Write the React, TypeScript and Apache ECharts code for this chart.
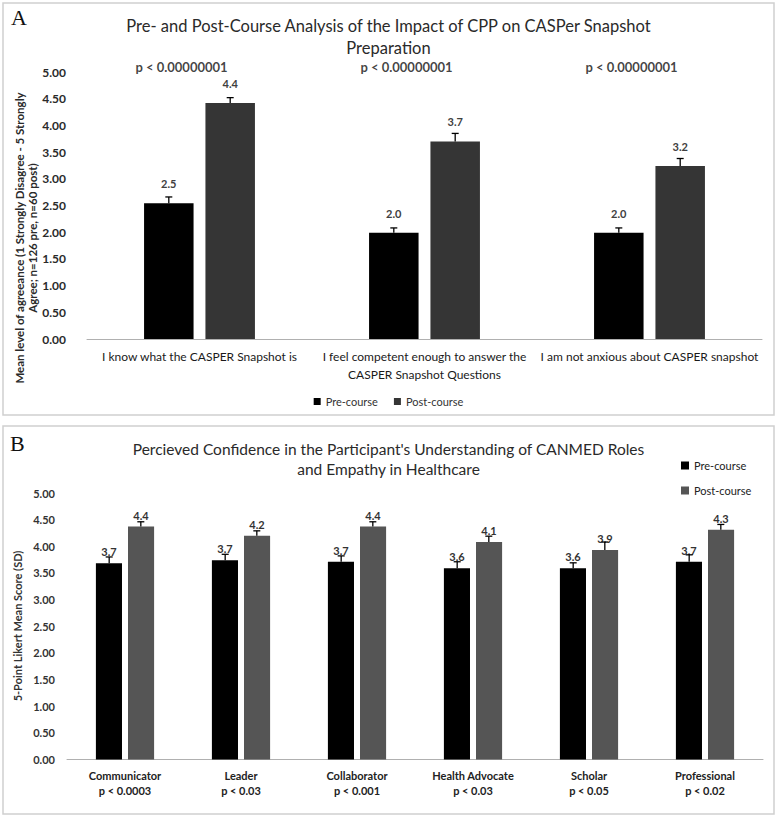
import React, { useEffect, useRef } from "react";
import * as echarts from "echarts";

// ---------- Data: panel A ----------
const categoriesA = [
  "I know what the CASPER Snapshot is",
  "I feel competent enough to answer the\nCASPER Snapshot Questions",
  "I am not anxious about CASPER snapshot",
];
const preA = [2.54, 1.99, 1.99];
const postA = [4.42, 3.7, 3.24];
const preErrA = [0.12, 0.09, 0.09];
const postErrA = [0.1, 0.15, 0.14];
const pLabelsA = ["p < 0.00000001", "p < 0.00000001", "p < 0.00000001"];

// ---------- Data: panel B ----------
const categoriesB = ["Communicator", "Leader", "Collaborator", "Health Advocate", "Scholar", "Professional"];
const pLabelsB = ["p < 0.0003", "p < 0.03", "p < 0.001", "p < 0.03", "p < 0.05", "p < 0.02"];
const preB = [3.68, 3.74, 3.71, 3.59, 3.59, 3.71];
const postB = [4.37, 4.2, 4.37, 4.08, 3.93, 4.31];
const preErrB = [0.12, 0.11, 0.11, 0.12, 0.1, 0.13];
const postErrB = [0.09, 0.09, 0.09, 0.11, 0.15, 0.1];

const yMin = 0;
const yMax = 5;
const yInterval = 0.5;

const seriesNames = ["Pre-course", "Post-course"];
const titleA = "Pre- and Post-Course Analysis of the Impact of CPP on CASPer Snapshot\nPreparation";
const titleB = "Percieved Confidence in the Participant's Understanding of CANMED Roles\nand Empathy in Healthcare";
const yTitleA = "Mean level of agreeance (1 Strongly Disagree - 5 Strongly\nAgree; n=126 pre, n=60 post)";
const yTitleB = "5-Point Likert Mean Score (SD)";

const FONT = "Lato, 'Open Sans', sans-serif";
const BAR_FRAC = 0.22;
const GAP_FRAC = 0.24;

function errorSeries(name: string, gridIdx: number, vals: number[], errs: number[], sign: number) {
  return {
    name,
    type: "custom",
    xAxisIndex: gridIdx,
    yAxisIndex: gridIdx,
    z: 10,
    silent: true,
    data: vals.map((v, i) => [i, v, errs[i]]),
    encode: { x: 0, y: 1 },
    renderItem: (params: any, api: any) => {
      const cat = api.value(0);
      const val = api.value(1);
      const err = api.value(2);
      const base = api.coord([cat, val]);
      const top = api.coord([cat, val + err]);
      const band = api.size([1, 0])[0];
      const bw = band * BAR_FRAC;
      const gap = bw * GAP_FRAC;
      const x = base[0] + (sign * (bw + gap)) / 2;
      const cap = 3.5;
      const st = { stroke: "#000", lineWidth: 1.3 };
      return {
        type: "group",
        children: [
          { type: "line", shape: { x1: x, y1: base[1], x2: x, y2: top[1] }, style: st },
          { type: "line", shape: { x1: x - cap, y1: top[1], x2: x + cap, y2: top[1] }, style: st },
        ],
      };
    },
  };
}

export default function App() {
  const ref = useRef<HTMLDivElement>(null);
  useEffect(() => {
    if (!ref.current) return;
    const chart = echarts.init(ref.current, undefined, { renderer: "svg" });
    const yAxisCommon = {
      type: "value",
      min: yMin,
      max: yMax,
      interval: yInterval,
      axisLine: { show: false },
      axisTick: { show: false },
      splitLine: { show: false },
    };
    const option: any = {
      animation: false,
      backgroundColor: "#fff",
      textStyle: { fontFamily: FONT },
      title: [
        {
          text: titleA,
          left: "center",
          top: 10,
          textStyle: { fontFamily: FONT, fontSize: 16.5, fontWeight: "normal", color: "#2a2a2a", lineHeight: 22 },
        },
        {
          text: titleB,
          left: "center",
          top: 434,
          textStyle: { fontFamily: FONT, fontSize: 15.5, fontWeight: "normal", color: "#2a2a2a", lineHeight: 20 },
        },
      ],
      legend: [
        {
          data: seriesNames,
          left: "center",
          top: 391,
          icon: "rect",
          itemWidth: 7,
          itemHeight: 7,
          itemGap: 16,
          textStyle: { fontFamily: FONT, fontSize: 11, color: "#333" },
        },
        {
          data: [
            { name: seriesNames[0], itemStyle: { color: "#000" } },
            { name: seriesNames[1], itemStyle: { color: "#555" } },
          ],
          orient: "vertical",
          left: 676,
          top: 455,
          icon: "rect",
          itemWidth: 8,
          itemHeight: 8,
          itemGap: 14,
          textStyle: { fontFamily: FONT, fontSize: 11, color: "#222" },
        },
      ],
      grid: [
        { left: 87, right: 15, top: 72, bottom: 817 - 339 },
        { left: 67, right: 14, top: 493, bottom: 817 - 759.5 },
      ],
      xAxis: [
        {
          type: "category",
          gridIndex: 0,
          data: categoriesA,
          axisLine: { lineStyle: { color: "#b0b0b0", width: 1 } },
          axisTick: { show: false },
          axisLabel: { interval: 0, margin: 8, fontFamily: FONT, fontSize: 12, color: "#1a1a1a", lineHeight: 18 },
        },
        {
          type: "category",
          gridIndex: 1,
          data: categoriesB,
          axisLine: { lineStyle: { color: "#b0b0b0", width: 1 } },
          axisTick: { show: false },
          axisLabel: {
            interval: 0,
            margin: 8,
            fontFamily: FONT,
            fontSize: 11,
            fontWeight: "bold",
            color: "#222",
            lineHeight: 15,
            formatter: (v: string, i: number) => v + "\n" + pLabelsB[i],
          },
        },
      ],
      yAxis: [
        {
          ...yAxisCommon,
          gridIndex: 0,
          axisLabel: {
            margin: 21,
            fontFamily: FONT,
            fontSize: 12,
            fontWeight: "bold",
            color: "#2a2a2a",
            formatter: (v: number) => v.toFixed(2),
          },
        },
        {
          ...yAxisCommon,
          gridIndex: 1,
          axisLabel: {
            margin: 12,
            fontFamily: FONT,
            fontSize: 11,
            fontWeight: "bold",
            color: "#333",
            formatter: (v: number) => v.toFixed(2),
          },
        },
      ],
      series: [
        {
          name: seriesNames[0],
          type: "bar",
          xAxisIndex: 0,
          yAxisIndex: 0,
          data: preA,
          barWidth: "22%",
          barGap: "24%",
          itemStyle: { color: "#000" },
          label: {
            show: true,
            position: "top",
            distance: 14,
            fontFamily: FONT,
            fontSize: 11,
            fontWeight: "bold",
            color: "#404040",
            formatter: (p: any) => p.value.toFixed(1),
          },
        },
        {
          name: seriesNames[1],
          type: "bar",
          xAxisIndex: 0,
          yAxisIndex: 0,
          data: postA,
          barWidth: "22%",
          barGap: "24%",
          itemStyle: { color: "#353535" },
          label: {
            show: true,
            position: "top",
            distance: 14,
            fontFamily: FONT,
            fontSize: 11,
            fontWeight: "bold",
            color: "#404040",
            formatter: (p: any) => p.value.toFixed(1),
          },
        },
        errorSeries("Pre-course SD A", 0, preA, preErrA, -1),
        errorSeries("Post-course SD A", 0, postA, postErrA, 1),
        {
          name: "p values A",
          type: "scatter",
          xAxisIndex: 0,
          yAxisIndex: 0,
          symbolSize: 0,
          silent: true,
          itemStyle: { color: "rgba(0,0,0,0)" },
          data: pLabelsA.map((t, i) => [i, yMax]),
          label: {
            show: true,
            position: "inside",
            offset: [-18, -5],
            fontFamily: FONT,
            fontSize: 13,
            fontWeight: "bold",
            color: "#111",
            formatter: (p: any) => pLabelsA[p.dataIndex],
          },
        },
        {
          name: seriesNames[0],
          type: "bar",
          xAxisIndex: 1,
          yAxisIndex: 1,
          data: preB,
          barWidth: "22.5%",
          barGap: "23%",
          itemStyle: { color: "#000" },
          label: {
            show: true,
            position: "top",
            distance: 6,
            fontFamily: FONT,
            fontSize: 11,
            fontWeight: "bold",
            color: "#333",
            formatter: (p: any) => p.value.toFixed(1),
          },
        },
        {
          name: seriesNames[1],
          type: "bar",
          xAxisIndex: 1,
          yAxisIndex: 1,
          data: postB,
          barWidth: "22.5%",
          barGap: "23%",
          itemStyle: { color: "#555" },
          label: {
            show: true,
            position: "top",
            distance: 6,
            fontFamily: FONT,
            fontSize: 11,
            fontWeight: "bold",
            color: "#333",
            formatter: (p: any) => p.value.toFixed(1),
          },
        },
        errorSeries("Pre-course SD B", 1, preB, preErrB, -1),
        errorSeries("Post-course SD B", 1, postB, postErrB, 1),
      ],
      graphic: [
        { type: "rect", shape: { x: 3, y: 3, width: 771, height: 412 }, style: { fill: "none", stroke: "#d0d0d0", lineWidth: 1.5 }, silent: true },
        { type: "rect", shape: { x: 3, y: 426, width: 771, height: 388 }, style: { fill: "none", stroke: "#d0d0d0", lineWidth: 1.5 }, silent: true },
        {
          type: "text",
          x: 11,
          y: 6,
          style: { text: "A", font: "22px 'Liberation Serif', 'DejaVu Serif', serif", fill: "#111" },
        },
        {
          type: "text",
          x: 10,
          y: 432,
          style: { text: "B", font: "22px 'Liberation Serif', 'DejaVu Serif', serif", fill: "#111" },
        },
        {
          type: "text",
          x: 26,
          y: 238,
          rotation: Math.PI / 2,
          style: {
            text: yTitleA,
            font: "bold 11.5px " + FONT,
            fill: "#2a2a2a",
            lineHeight: 13,
            textAlign: "center",
            align: "center",
            textVerticalAlign: "middle",
            verticalAlign: "middle",
          },
        },
        {
          type: "text",
          x: 17,
          y: 626,
          rotation: Math.PI / 2,
          style: {
            text: yTitleB,
            font: "bold 11px " + FONT,
            fill: "#333",
            textAlign: "center",
            align: "center",
            textVerticalAlign: "middle",
            verticalAlign: "middle",
          },
        },
      ],
    };
    chart.setOption(option);
    return () => chart.dispose();
  }, []);
  return (
    <div
      ref={ref}
      style={{ position: "fixed", left: 0, top: 0, width: 777, height: 817, background: "#fff" }}
    />
  );
}
